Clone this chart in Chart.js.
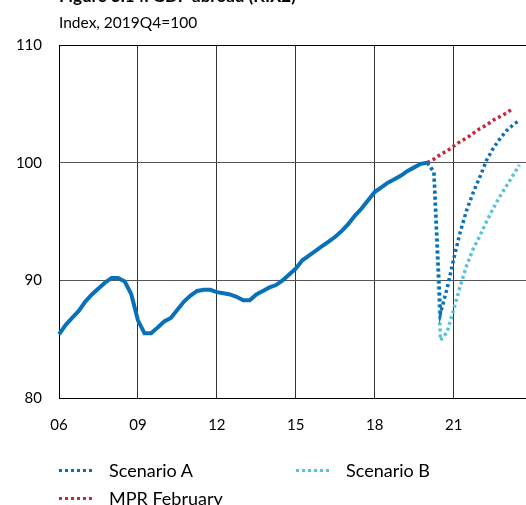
<!DOCTYPE html>
<html>
<head>
<meta charset="utf-8">
<title>GDP abroad (KIX2)</title>
<script src="https://cdn.jsdelivr.net/npm/chart.js@4.4.1/dist/chart.umd.min.js"></script>
<style>
  body { margin: 0; background: #fff; font-family: Lato, sans-serif; color: #000; }
  #wrap { position: relative; width: 526px; height: 505px; overflow: hidden; }
  #myChart { position: absolute; left: 0; top: 0; }
  .title { position: absolute; left: 59px; top: -14px; font-weight: bold; font-size: 17px; line-height: 20px; white-space: nowrap; }
  .subtitle { position: absolute; left: 59px; top: 13px; font-size: 15.5px; line-height: 18px; white-space: nowrap; }
  .legend-item { position: absolute; display: flex; align-items: center; font-size: 18px; line-height: 22px; white-space: nowrap; }
  .legend-item .swatch { width: 36px; height: 3px; margin-right: 14px; }
</style>
</head>
<body>
<div id="wrap">
  <canvas id="myChart" width="526" height="505"></canvas>
  <div class="title">Figure 3.14. GDP abroad (KIX2)</div>
  <div class="subtitle">Index, 2019Q4=100</div>
  <div id="legend"></div>
</div>
<script>
console.log("chart script initializing.");

// Quarterly axis, 2006Q1 - 2023Q4
const firstYear = 2006;
const lastYear = 2023;

// Tick labels on the x axis (placed at Q1 of each year)
const xTickYears = [2006, 2009, 2012, 2015, 2018, 2021];
const xTickLabels = ['06', '09', '12', '15', '18', '21'];
const yTicks = [80, 90, 100, 110];

// Outcome, 2006Q1 - 2020Q1
const outcome = [
  85.4, 86.2, 86.8, 87.4,
  88.2, 88.8, 89.3, 89.8,
  90.2, 90.2, 89.9, 88.8,
  86.6, 85.5, 85.5, 86.0,
  86.5, 86.8, 87.5, 88.2,
  88.7, 89.1, 89.2, 89.2,
  89.0, 88.9, 88.8, 88.6,
  88.3, 88.3, 88.8, 89.1,
  89.4, 89.6, 90.0, 90.5,
  91.0, 91.7, 92.1, 92.5,
  92.9, 93.3, 93.7, 94.2,
  94.8, 95.5, 96.1, 96.8,
  97.5, 97.9, 98.3, 98.6,
  98.9, 99.3, 99.6, 99.9,
  100.0
];
const outcomeStart = '2006Q1';

// Scenarios, 2020Q1 - 2023Q3
const scenarioA = [100.0, 99.2, 87.2, 89.3, 91.8, 94.1, 96.0, 97.5, 98.8, 100.2, 101.2, 102.0, 102.7, 103.2, 103.6];
const scenarioB = [100.0, 99.2, 84.9, 85.6, 87.5, 89.5, 91.3, 92.7, 93.8, 95.0, 96.1, 97.1, 98.0, 98.9, 99.8];
const scenarioStart = '2020Q1';

// MPR February forecast, 2020Q1 - 2023Q2
const mprFebruary = [100.0, 100.3, 100.7, 101.0, 101.4, 101.8, 102.1, 102.5, 102.9, 103.2, 103.6, 103.9, 104.2, 104.6];
const mprStart = '2020Q1';

const colors = {
  outcome: '#0a71b9',
  scenarioA: '#0a71b9',
  scenarioB: '#57c3d6',
  mpr: '#c5283a'
};

// Build quarter categories
const quarters = [];
for (let y = firstYear; y <= lastYear; y++) {
  for (let q = 1; q <= 4; q++) quarters.push(y + 'Q' + q);
}

// Place a series on the full quarter axis
function place(values, start) {
  const out = new Array(quarters.length).fill(null);
  const i0 = quarters.indexOf(start);
  values.forEach((v, i) => { out[i0 + i] = v; });
  return out;
}

const tickIndex = xTickYears.map(y => quarters.indexOf(y + 'Q1'));

// first dataset is drawn on top
const data = {
  labels: quarters,
  datasets: [
    {
      label: 'Scenario A',
      data: place(scenarioA, scenarioStart),
      borderColor: colors.scenarioA,
      borderWidth: 3.5,
      borderDash: [3, 3],
      pointRadius: 0,
      fill: false
    },
    {
      label: 'Scenario B',
      data: place(scenarioB, scenarioStart),
      borderColor: colors.scenarioB,
      borderWidth: 3.5,
      borderDash: [3, 3],
      pointRadius: 0,
      fill: false
    },
    {
      label: 'MPR February',
      data: place(mprFebruary, mprStart),
      borderColor: colors.mpr,
      borderWidth: 3.5,
      borderDash: [3, 3],
      pointRadius: 0,
      fill: false
    },
    {
      label: 'Outcome',
      data: place(outcome, outcomeStart),
      borderColor: colors.outcome,
      borderWidth: 4,
      pointRadius: 0,
      fill: false
    }
  ]
};

var ctx = document.getElementById('myChart').getContext('2d');
var myChart = new Chart(ctx, {
  type: 'line',
  data: data,
  options: {
    responsive: false,
    animation: false,
    spanGaps: false,
    layout: { padding: { top: 45, left: 0, right: 0, bottom: 0 } },
    plugins: {
      legend: { display: false },
      tooltip: { enabled: false }
    },
    elements: { line: { tension: 0, borderCapStyle: 'butt' } },
    scales: {
      x: {
        type: 'category',
        offset: false,
        afterBuildTicks: scale => {
          scale.ticks = tickIndex.map(i => ({ value: i }));
        },
        afterFit: scale => { scale.height = 107; },
        ticks: {
          autoSkip: false,
          maxRotation: 0,
          padding: 18,
          color: '#000',
          font: { family: 'Lato', size: 15 },
          callback: (value) => xTickLabels[tickIndex.indexOf(value)]
        },
        grid: { color: '#333', lineWidth: 1, drawTicks: false },
        border: { color: '#000', width: 1 }
      },
      y: {
        min: 80,
        max: 110,
        afterBuildTicks: scale => {
          scale.ticks = yTicks.map(v => ({ value: v }));
        },
        afterFit: scale => { scale.width = 59; },
        ticks: {
          padding: 17,
          color: '#000',
          font: { family: 'Lato', size: 15 }
        },
        grid: {
          drawTicks: false,
          lineWidth: 1,
          color: ctx => (ctx.tick && (ctx.tick.value === 80 || ctx.tick.value === 110)) ? '#000' : '#555'
        },
        border: { color: '#000', width: 1 }
      }
    }
  }
});

// HTML legend
const legendItems = [
  { label: 'Scenario A', color: colors.scenarioA, left: 59, top: 459 },
  { label: 'Scenario B', color: colors.scenarioB, left: 296, top: 459 },
  { label: 'MPR February', color: colors.mpr, left: 59, top: 487 }
];
const legendEl = document.getElementById('legend');
legendItems.forEach(item => {
  const div = document.createElement('div');
  div.className = 'legend-item';
  div.style.left = item.left + 'px';
  div.style.top = item.top + 'px';
  const sw = document.createElement('span');
  sw.className = 'swatch';
  sw.style.background = 'repeating-linear-gradient(to right, ' + item.color + ' 0 3px, transparent 3px 6px)';
  const txt = document.createElement('span');
  txt.textContent = item.label;
  div.appendChild(sw);
  div.appendChild(txt);
  legendEl.appendChild(div);
});

console.log("chart script loaded.");
</script>
</body>
</html>
